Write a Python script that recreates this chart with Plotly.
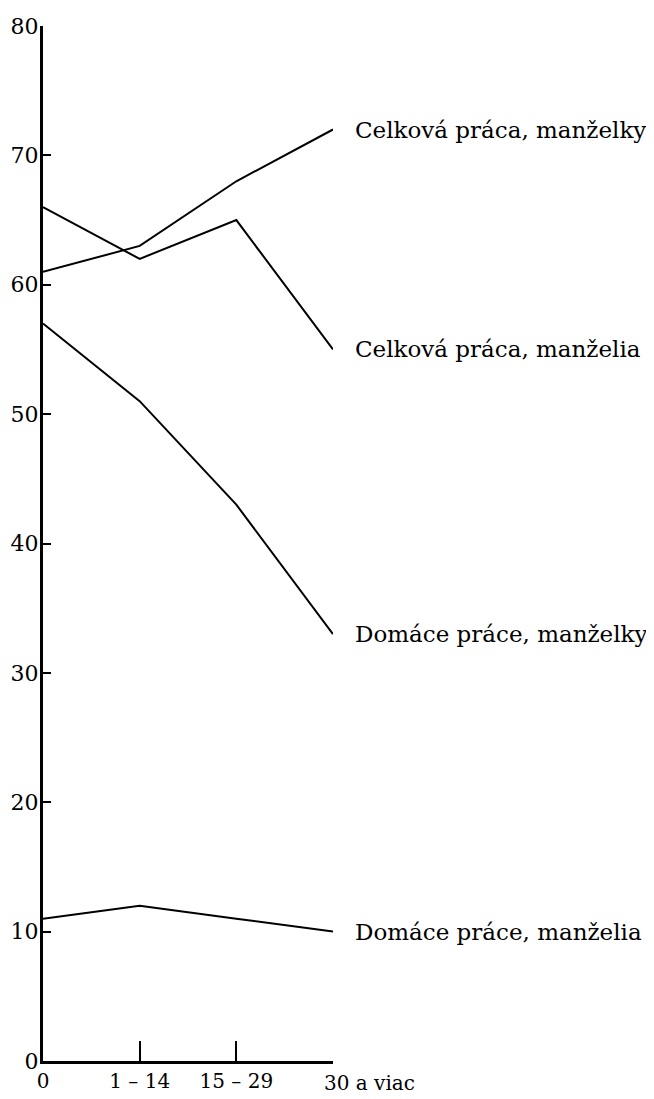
import plotly.graph_objects as go

categories = ["0", "1 – 14", "15 – 29", "30 a viac"]
x_pos = [0, 1, 2, 3]
celkova_manzelky = [61, 63, 68, 72]
celkova_manzelia = [66, 62, 65, 55]
domace_manzelky = [57, 51, 43, 33]
domace_manzelia = [11, 12, 11, 10]
series_names = ["Celková práca, manželky", "Celková práca, manželia",
                "Domáce práce, manželky", "Domáce práce, manželia"]
series_values = [celkova_manzelky, celkova_manzelia, domace_manzelky, domace_manzelia]
y_ticks = [0, 10, 20, 30, 40, 50, 60, 70, 80]

FONT = "DejaVu Serif"

fig = go.Figure()
for name, vals in zip(series_names, series_values):
    fig.add_trace(go.Scatter(x=x_pos, y=vals, mode="lines", name=name,
                             line=dict(color="black", width=2), cliponaxis=False,
                             showlegend=False))
    fig.add_annotation(x=x_pos[-1], y=vals[-1], text=name, showarrow=False,
                       xanchor="left", yanchor="middle", xshift=20,
                       font=dict(family=FONT, size=23, color="black"))

fig.add_annotation(x=x_pos[-1], y=0, text=categories[-1], showarrow=False,
                   xanchor="left", yanchor="middle", xshift=-11, yshift=-22,
                   font=dict(family=FONT, size=20, color="black"))

fig.update_xaxes(range=[0, 3], tickvals=x_pos,
                 ticktext=categories[:-1] + [""],
                 showline=True, linewidth=3, linecolor="black",
                 ticks="inside", ticklen=20, tickwidth=2, tickcolor="black",
                 showgrid=False, zeroline=False,
                 tickfont=dict(family=FONT, size=20, color="black"))
fig.update_yaxes(range=[0, 80], tickvals=y_ticks,
                 showline=True, linewidth=3, linecolor="black",
                 ticks="inside", ticklen=8, tickwidth=2, tickcolor="black",
                 showgrid=False, zeroline=False, ticklabelstandoff=-3,
                 tickfont=dict(family=FONT, size=22, color="black"))
fig.update_layout(width=646, height=1091, plot_bgcolor="white", paper_bgcolor="white",
                  margin=dict(l=35, r=321, t=18, b=38, autoexpand=False))
fig.write_html("out.html")
